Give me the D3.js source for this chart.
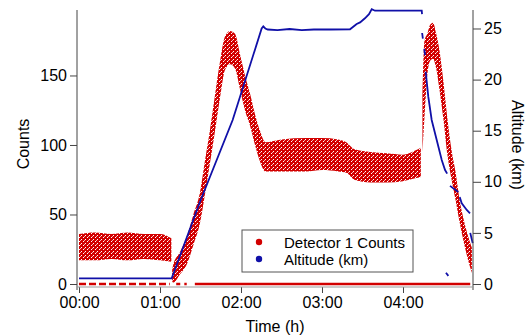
<!DOCTYPE html>
<html>
<head>
<meta charset="utf-8">
<script src="https://cdn.jsdelivr.net/npm/d3@7"></script>
<style>
  body { margin: 0; background: #fff; }
  svg { font-family: "Liberation Sans", Arial, sans-serif; }
</style>
</head>
<body>
<figure id="chart" style="margin:0"></figure>
<script>
// detector counts: envelope of the scattered points (hours, low, high); null breaks the band
const countTime = [0.0, 0.2, 0.4, 0.6, 0.8, 1.0, 1.14, null,
  1.15, 1.164, 1.247, 1.330, 1.412, 1.494, 1.556, 1.617, 1.679, 1.741, 1.802, 1.864, 1.926, 1.988,
  2.049, 2.111, 2.173, 2.235, 2.30, 2.5, 2.8, 3.0, 3.2, 3.3, 3.4, 3.6, 3.8, 4.0, 4.15, 4.22, null,
  4.24, 4.265, 4.30, 4.33, 4.37, 4.41, 4.45, 4.50, 4.55, 4.60, 4.65, 4.70, 4.75, 4.80, 4.85];
const countLow = [17, 17, 18, 17, 18, 17, 16, null,
  2, 1, 7, 14, 28, 44, 65, 87, 110, 134, 154, 158, 155, 140,
  125, 114, 100, 88, 81, 81, 81, 82, 81, 80, 75, 73, 73, 74, 76, 77, null,
  95, 120, 150, 160, 162, 155, 140, 118, 92, 75, 60, 44, 30, 18, 8];
const countHigh = [36, 37, 36, 37, 36, 36, 33, null,
  10, 14, 23, 34, 50, 66, 89, 111, 136, 160, 178, 182, 180, 165,
  150, 137, 122, 110, 102, 104, 105, 105, 104, 102, 97, 95, 94, 93, 96, 98, null,
  132, 175, 180, 186, 188, 180, 168, 145, 118, 96, 80, 60, 46, 35, 26];

// stretches where the detector reads zero (hours)
const zeroStart = [0.0, 1.2, 1.3, 1.43];
const zeroEnd = [1.12, 1.25, 1.33, 4.83];

// altitude (km); null marks gaps in the track
const altTime = [0, 1.144, 1.494, 1.897, 2.255, 2.275, 2.30, 2.33, 2.45, 2.6, 2.75, 2.9, 3.1, 3.346,
  3.428, 3.47, 3.53, 3.58, 3.614, 3.654, 4.231, 4.235, null,
  4.236, 4.245, null, 4.262, 4.272, null,
  4.28, 4.312, 4.354, 4.416, 4.478, 4.519, 4.545, null,
  4.58, 4.683, null, 4.70, 4.725, 4.787, 4.827, null,
  4.83, 4.86, null, 4.53, 4.56];
const altKm = [0.55, 0.55, 8.05, 16.05, 25.0, 25.2, 25.0, 24.9, 24.85, 24.95, 24.85, 24.9, 24.9, 24.92,
  25.44, 25.6, 26.0, 26.4, 26.9, 26.74, 26.74, 26.4, null,
  24.56, 24.0, null, 23.0, 22.4, null,
  20.77, 18.33, 16.05, 14.09, 12.13, 11.15, 10.8, null,
  9.6, 9.0, null, 8.5, 7.9, 7.24, 6.92, null,
  5.0, 4.0, null, 1.1, 0.8];

const hourTicks = [0, 1, 2, 3, 4];
const countTicks = [0, 50, 100, 150];
const altTicks = [0, 5, 10, 15, 20, 25];
const legendLabels = ["Detector 1 Counts", "Altitude (km)"];

const W = 528, H = 336;
const plotLeft = 77, plotRight = 473, plotTop = 10, zeroY = 284, axisY = 287;
const red = "#d20000", blue = "#1010a8";

const svg = d3.select("#chart").append("svg").attr("width", W).attr("height", H);

const x = d3.scaleLinear().domain([-0.0247, 4.864]).range([plotLeft, plotRight]);
const yC = d3.scaleLinear().domain([0, 197.1]).range([zeroY, plotTop]);
const yA = d3.scaleLinear().domain([0, 26.81]).range([zeroY, plotTop]);

// speckled fill to mimic dense scatter
const pat = svg.append("defs").append("pattern")
  .attr("id", "dots").attr("width", 4).attr("height", 4)
  .attr("patternUnits", "userSpaceOnUse");
pat.append("rect").attr("width", 4).attr("height", 4).attr("fill", red);
pat.append("rect").attr("x", 3).attr("y", 1).attr("width", 1).attr("height", 1).attr("fill", "#fff");
pat.append("rect").attr("x", 1).attr("y", 3).attr("width", 1).attr("height", 1).attr("fill", "#fff");
pat.append("rect").attr("x", 0).attr("y", 0).attr("width", 1).attr("height", 1).attr("fill", "#f4b0b0");

const band = countTime.map((t, i) => ({ t: t, lo: countLow[i], hi: countHigh[i] }));
const area = d3.area()
  .defined(d => d.t !== null)
  .x(d => x(d.t)).y0(d => yC(d.lo)).y1(d => yC(d.hi))
  .curve(d3.curveMonotoneX);
svg.append("path").datum(band).attr("d", area).attr("fill", "url(#dots)");

// zero readings
svg.selectAll("line.zero").data(zeroStart).enter().append("line")
  .attr("x1", (d) => x(d)).attr("x2", (d, i) => x(zeroEnd[i]))
  .attr("y1", yC(0)).attr("y2", yC(0))
  .attr("stroke", red).attr("stroke-width", 2.5)
  .attr("stroke-dasharray", (d, i) => i === 0 ? "7,3" : null);

// altitude track
const alt = altTime.map((t, i) => ({ t: t, a: altKm[i] }));
const line = d3.line()
  .defined(d => d.t !== null)
  .x(d => x(d.t)).y(d => yA(d.a));
svg.append("path").datum(alt).attr("d", line)
  .attr("fill", "none").attr("stroke", blue).attr("stroke-width", 1.8);

// axes
const ax = svg.append("g").attr("transform", "translate(0," + axisY + ")")
  .call(d3.axisBottom(x).tickValues(hourTicks).tickSize(6).tickPadding(4)
    .tickFormat(d => "0" + d + ":00"));
const al = svg.append("g").attr("transform", "translate(" + plotLeft + ",0)")
  .call(d3.axisLeft(yC).tickValues(countTicks).tickSize(7).tickPadding(3));
const ar = svg.append("g").attr("transform", "translate(" + plotRight + ",0)")
  .call(d3.axisRight(yA).tickValues(altTicks).tickSize(8).tickPadding(3));
[ax, al, ar].forEach(g => {
  g.select(".domain").remove();
  g.selectAll("line").attr("stroke", "#444");
  g.selectAll("text").attr("font-size", 16).attr("fill", "#000");
});
svg.append("line").attr("x1", plotLeft).attr("x2", plotLeft).attr("y1", plotTop).attr("y2", axisY + 3)
  .attr("stroke", "#444");
svg.append("line").attr("x1", plotRight).attr("x2", plotRight).attr("y1", plotTop).attr("y2", axisY + 3)
  .attr("stroke", "#444");
svg.append("line").attr("x1", plotLeft).attr("x2", plotRight).attr("y1", axisY).attr("y2", axisY)
  .attr("stroke", "#999");

svg.append("text").attr("x", (plotLeft + plotRight) / 2).attr("y", 332).attr("text-anchor", "middle")
  .attr("font-size", 16).text("Time (h)");
svg.append("text").attr("transform", "translate(29,144)rotate(-90)").attr("text-anchor", "middle")
  .attr("font-size", 16).text("Counts");
svg.append("text").attr("transform", "translate(512,145)rotate(90)").attr("text-anchor", "middle")
  .attr("font-size", 16).text("Altitude (km)");

// legend
const lg = svg.append("g").attr("transform", "translate(242,230)");
lg.append("rect").attr("width", 171).attr("height", 42)
  .attr("fill", "#fff").attr("stroke", "#555");
const items = lg.selectAll("g.item").data(legendLabels).enter().append("g")
  .attr("transform", (d, i) => "translate(0," + (12 + i * 17) + ")");
items.append("circle").attr("cx", 17).attr("cy", 0).attr("r", 3.2)
  .attr("fill", (d, i) => i === 0 ? red : blue);
items.append("text").attr("x", 42).attr("y", 5.5).attr("font-size", 15).text(d => d);
</script>
</body>
</html>
